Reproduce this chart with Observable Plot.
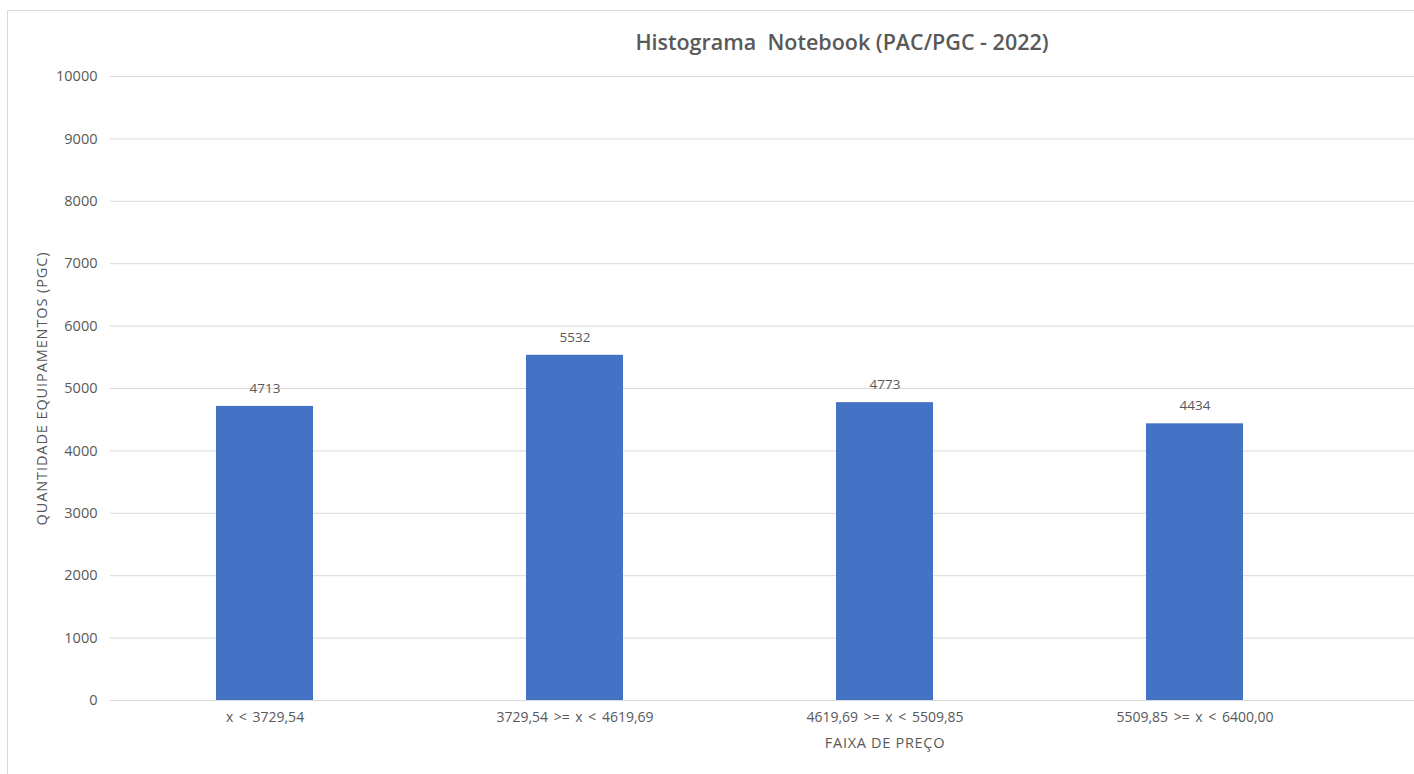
<!DOCTYPE html>
<html>
<head>
<meta charset="utf-8">
<script src="https://cdn.jsdelivr.net/npm/d3@7"></script>
<script src="https://cdn.jsdelivr.net/npm/@observablehq/plot@0.6"></script>
<style>
  html, body { margin: 0; padding: 0; background: #fff; }
  #wrap { position: relative; width: 1414px; height: 774px; overflow: hidden; }
  #border { position: absolute; left: 7px; top: 10px; width: 1500px; height: 900px; border-left: 1px solid #d9d9d9; border-top: 1px solid #d9d9d9; }
  #title { position: absolute; left: 0; top: 27px; width: 1684px; text-align: center; font-family: "Open Sans", sans-serif; font-weight: 600; font-size: 21.5px; color: #595959; }
  #chart { position: absolute; left: 0; top: 0; }
</style>
</head>
<body>
<div id="wrap">
  <div id="border"></div>
  <div id="title">Histograma&nbsp; Notebook (PAC/PGC - 2022)</div>
  <div id="chart"></div>
</div>
<script>
const categories = ["x < 3729,54", "3729,54 >= x < 4619,69", "4619,69 >= x < 5509,85", "5509,85 >= x < 6400,00"];
const counts = [4713, 5532, 4773, 4434];
const yTicks = [0, 1000, 2000, 3000, 4000, 5000, 6000, 7000, 8000, 9000, 10000];
const xLabel = "FAIXA DE PREÇO";
const yLabel = "QUANTIDADE EQUIPAMENTOS (PGC)";

const data = categories.map((c, i) => ({cat: c, n: counts[i]}));
const textColor = "#595959";
const font = "'Open Sans', sans-serif";

const chart = Plot.plot({
  width: 1414,
  height: 774,
  marginLeft: 110,
  marginRight: 0,
  marginTop: 76,
  marginBottom: 74,
  style: {fontFamily: font, fontSize: "13px", color: textColor, background: "transparent", overflow: "visible"},
  x: {domain: categories, range: [110, 1350], paddingInner: 0.687, paddingOuter: 0.3435, axis: null},
  y: {domain: [0, 10000], axis: null},
  marks: [
    Plot.ruleY(yTicks, {stroke: "#d9d9d9", strokeWidth: 1}),
    Plot.barY(data, {x: "cat", y: "n", fill: "#4472C4"}),
    Plot.text(data, {x: "cat", y: "n", text: d => String(d.n), dy: -18, fill: textColor, fontSize: 13.5}),
    Plot.axisY(yTicks, {tickSize: 0, tickPadding: 13, tickFormat: d => String(d), fontSize: 14.5, label: null, color: textColor}),
    Plot.axisX({tickSize: 0, tickPadding: 12, fontSize: 14, label: null, color: textColor}),
    Plot.text([yLabel], {frameAnchor: "left", textAnchor: "middle", dx: -68, rotate: -90, fontSize: 14.5, fill: textColor}),
    Plot.text([xLabel], {x: () => categories[2], frameAnchor: "bottom", dy: 47, fontSize: 14.5, fill: textColor})
  ]
});
document.getElementById("chart").appendChild(chart);

// spacing tweaks to mimic the reference typeface widths
d3.select(chart).selectAll("text").each(function() {
  const t = this.textContent;
  if (t === yLabel) this.style.letterSpacing = "0.9px";
  else if (t === xLabel) this.style.letterSpacing = "0.7px";
  else if (categories.includes(t)) this.style.wordSpacing = "2px";
});
</script>
</body>
</html>
